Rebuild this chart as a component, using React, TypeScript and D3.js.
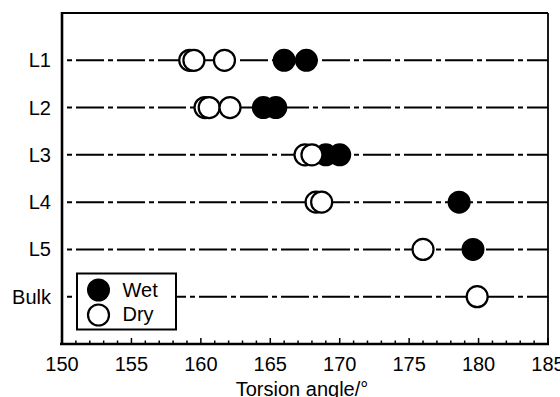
import React from 'react';
import * as d3 from 'd3';

const width = 560;
const height = 397;
const plotLeft = 62;
const plotRight = 548;
const plotTop = 13;
const plotBottom = 344;
const font = '"Liberation Sans", Arial, sans-serif';
const fs = 20;

const layers = ['L1', 'L2', 'L3', 'L4', 'L5', 'Bulk'];
// torsion angles per layer (deg)
const wetAngles = [[166.0, 167.6], [164.5, 165.4], [169.0, 170.0], [178.6], [179.6], []];
const dryAngles = [[159.2, 159.5, 161.7], [160.3, 160.6, 162.1], [167.5, 168.0], [168.3, 168.7], [176.0], [179.9]];
const xTicks = [150, 155, 160, 165, 170, 175, 180, 185];

const App = () => {
  const x = d3.scaleLinear().domain([150, 185]).range([plotLeft, plotRight]);
  const y = d3.scalePoint<string>().domain(layers).range([plotTop, plotBottom]).padding(1);
  const minorTicks = d3.range(150, 186, 1);
  const r = 10.5;

  return (
    <svg width={width} height={height} style={{ position: 'absolute', left: 0, top: 0 }} fontFamily={font}>
      <rect width={width} height={height} fill="#fff" />

      {/* dash-dot guide lines */}
      {layers.map((l) => (
        <line key={l} x1={plotLeft} x2={plotRight} y1={y(l)} y2={y(l)}
          stroke="#000" strokeWidth={2} strokeDasharray="28,4,5,4" strokeDashoffset={27} />
      ))}

      {/* wet points first, dry on top */}
      {layers.map((l, i) =>
        wetAngles[i].map((v, j) => (
          <circle key={`w${i}-${j}`} cx={x(v)} cy={y(l)} r={r} fill="#000" stroke="#000" strokeWidth={2} />
        ))
      )}
      {layers.map((l, i) =>
        dryAngles[i].map((v, j) => (
          <circle key={`d${i}-${j}`} cx={x(v)} cy={y(l)} r={r} fill="#fff" stroke="#000" strokeWidth={2.2} />
        ))
      )}

      {/* frame */}
      <line x1={plotLeft} x2={plotRight} y1={plotTop} y2={plotTop} stroke="#000" strokeWidth={1.8} />
      <line x1={plotRight} x2={plotRight} y1={plotTop} y2={plotBottom} stroke="#000" strokeWidth={1.8} />
      <line x1={plotLeft} x2={plotLeft} y1={plotTop - 1} y2={plotBottom + 1} stroke="#000" strokeWidth={2.6} />
      <line x1={plotLeft - 2} x2={plotRight + 1} y1={plotBottom} y2={plotBottom} stroke="#000" strokeWidth={2.6} />

      {/* x ticks, pointing inward */}
      {minorTicks.map((t) => (
        <line key={t} x1={x(t)} x2={x(t)} y1={plotBottom} y2={plotBottom - (t % 5 === 0 ? 6 : 3.5)}
          stroke="#000" strokeWidth={1.5} />
      ))}
      {xTicks.map((t) => (
        <text key={t} x={x(t)} y={371} textAnchor="middle" fontSize={fs}>{t}</text>
      ))}
      <text x={302} y={395.5} textAnchor="middle" fontSize={fs}>Torsion angle/°</text>

      {/* y labels */}
      {layers.map((l) => (
        <text key={l} x={51} y={y(l)} dy="0.35em" textAnchor="end" fontSize={fs}>{l}</text>
      ))}

      {/* legend */}
      <g>
        <rect x={77} y={273.5} width={99} height={56} fill="#fff" stroke="#000" strokeWidth={2} />
        <circle cx={98.5} cy={290} r={r} fill="#000" stroke="#000" strokeWidth={2} />
        <circle cx={98.5} cy={315} r={r} fill="#fff" stroke="#000" strokeWidth={2.2} />
        <text x={122.5} y={297} fontSize={fs}>Wet</text>
        <text x={122.5} y={321} fontSize={fs}>Dry</text>
      </g>
    </svg>
  );
};

export default App;
